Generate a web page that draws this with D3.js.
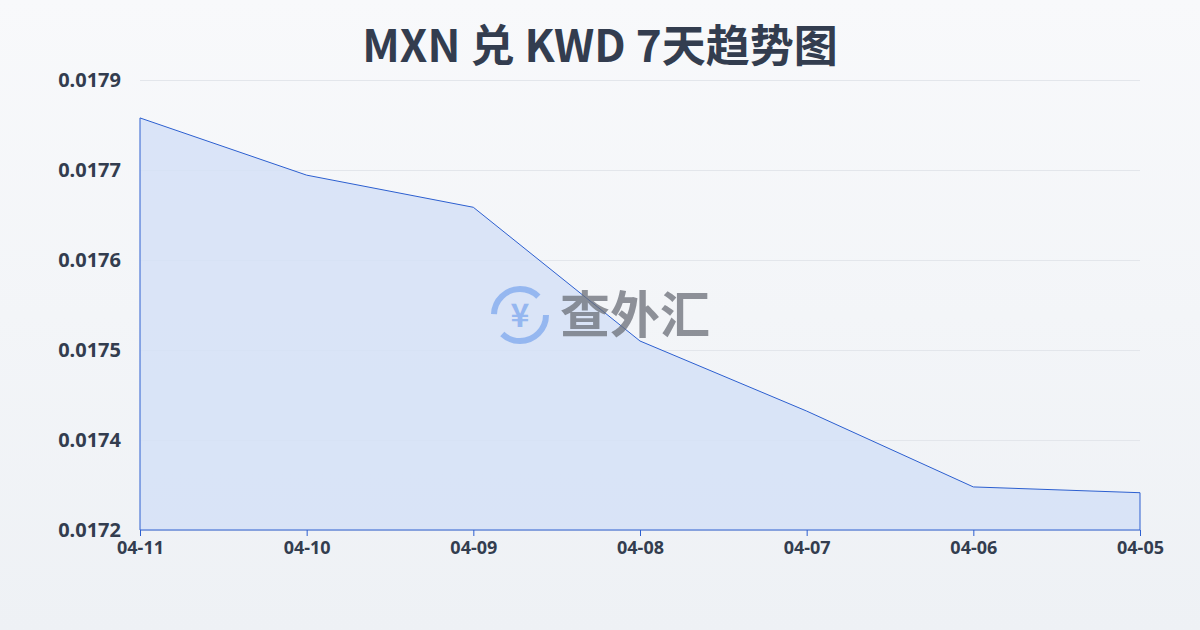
<!DOCTYPE html>
<html><head><meta charset="utf-8">
<script src="https://cdn.jsdelivr.net/npm/d3@7"></script>
<style>body{margin:0;background:linear-gradient(#f8f9fb,#eef1f5);} svg{display:block}</style>
</head><body><svg id="c" width="1200" height="630"></svg>
<script>
const dates = ["04-11","04-10","04-09","04-08","04-07","04-06","04-05"];
const rates = [0.017841,0.017752,0.017702,0.017494,0.017385,0.017267,0.017258];
const yTickLabels = ["0.0172","0.0174","0.0175","0.0176","0.0177","0.0179"];
const yDomain = [0.0172,0.0179];

const svg = d3.select("#c");
const m = {l:140,r:1140,t:80,b:530};
const x = d3.scalePoint().domain(dates).range([m.l,m.r]);
const y = d3.scaleLinear().domain(yDomain).range([m.b,m.t]);
const tickVals = d3.range(yTickLabels.length).map(i=>yDomain[0]+i*(yDomain[1]-yDomain[0])/(yTickLabels.length-1));

svg.append("text").attr("x",600).attr("y",62).attr("text-anchor","middle")
 .attr("font-family","Noto Sans CJK SC, Noto Sans").attr("font-weight","bold").attr("font-size",44).attr("fill","#333d4f")
 .text("MXN 兑 KWD 7天趋势图");

const gy = svg.append("g").attr("transform",`translate(${m.l},0)`)
 .call(d3.axisLeft(y).tickValues(tickVals).tickFormat((d,i)=>yTickLabels[i]).tickSize(-(m.r-m.l)));
gy.select(".domain").remove();
gy.selectAll(".tick line").attr("stroke","#e3e6eb");
gy.selectAll(".tick text").attr("x",-19).attr("font-family","Noto Sans").attr("font-weight","bold").attr("font-size",20).attr("fill","#333d4f");

const area = d3.area().x((d,i)=>x(dates[i])).y0(m.b).y1(d=>y(d));
svg.append("path").datum(rates).attr("d",area).attr("fill","#d5e0f7").attr("opacity",0.85);
svg.append("path").datum(rates).attr("d",d3.line().x((d,i)=>x(dates[i])).y(d=>y(d))).attr("fill","none").attr("stroke","#2c5fd0").attr("stroke-width",1);
svg.append("line").attr("x1",m.l).attr("x2",m.l).attr("y1",y(rates[0])).attr("y2",m.b).attr("stroke","#2c5fd0");
svg.append("line").attr("x1",m.r).attr("x2",m.r).attr("y1",y(rates[6])).attr("y2",m.b).attr("stroke","#2c5fd0");
svg.append("line").attr("x1",m.l).attr("x2",m.r).attr("y1",m.b).attr("y2",m.b).attr("stroke","#2c5fd0");

const gx = svg.append("g").attr("transform",`translate(0,${m.b})`).call(d3.axisBottom(x).tickSize(6));
gx.select(".domain").remove();
gx.selectAll(".tick line").attr("stroke","#2c5fd0");
gx.selectAll(".tick text").attr("y",11).attr("font-family","Noto Sans").attr("font-weight","bold").attr("font-size",18).attr("fill","#333d4f");

const w = svg.append("g").attr("opacity",0.75);
w.append("circle").attr("cx",520).attr("cy",315).attr("r",26).attr("fill","none").attr("stroke","#7fa8ee").attr("stroke-width",6).attr("stroke-dasharray","60 22");
w.append("text").attr("x",520).attr("y",327).attr("text-anchor","middle").attr("font-size",32).attr("font-weight","bold").attr("fill","#7fa8ee").attr("font-family","Noto Sans CJK SC").text("¥");
w.append("text").attr("x",560).attr("y",333).attr("font-size",50).attr("font-weight","bold").attr("fill","#6b6f78").attr("font-family","Noto Sans CJK SC").text("查外汇");
</script></body></html>
